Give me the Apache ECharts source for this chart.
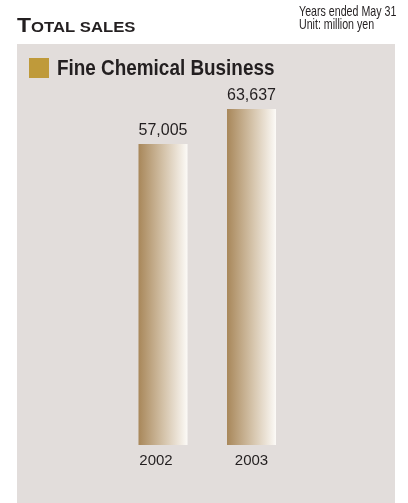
<!DOCTYPE html>
<html>
<head>
<meta charset="utf-8">
<script src="https://cdn.jsdelivr.net/npm/echarts@6/dist/echarts.min.js"></script>
<style>
  html, body { margin: 0; padding: 0; background: #ffffff; }
  #chart { width: 408px; height: 503px; }
</style>
</head>
<body>
<div id="chart"></div>
<script>
// Fiscal years and total sales (million yen)
const years = ['2002', '2003'];
const sales = [57005, 63637];
const seriesName = 'Fine Chemical Business';

const chart = echarts.init(document.getElementById('chart'), null, { renderer: 'canvas' });

const ink = '#231f20';
const sans = '"Liberation Sans", Arial, sans-serif';

chart.setOption({
  backgroundColor: '#ffffff',
  animation: false,
  graphic: [
    // shaded panel behind the chart
    { type: 'rect', z: -10, shape: { x: 17, y: 44, width: 378, height: 459 }, style: { fill: '#e2dddb' } },
    // heading in small caps, slightly extended
    {
      type: 'text', x: 17, y: 16, scaleX: 1.15,
      style: {
        text: '{b|T}{s|OTAL SALES}',
        verticalAlign: 'top',
        rich: {
          b: { fontSize: 20, fontWeight: 'bold', fontFamily: sans, fill: ink },
          s: { fontSize: 14.5, fontWeight: 'bold', fontFamily: sans, fill: ink, padding: [3, 0, 0, 0] }
        }
      }
    },
    // period / unit note, condensed
    {
      type: 'text', x: 299, y: 5, scaleX: 0.71,
      style: {
        text: 'Years ended May 31\nUnit: million yen',
        verticalAlign: 'top',
        font: '15px ' + sans, lineHeight: 13.5, fill: ink
      }
    },
    // legend swatch and title
    { type: 'rect', shape: { x: 29, y: 58, width: 20, height: 20 }, style: { fill: '#bf9a3a' } },
    {
      type: 'text', x: 57, y: 57, scaleX: 0.84,
      style: { text: seriesName, verticalAlign: 'top', font: 'bold 22.5px ' + sans, fill: ink }
    }
  ],
  grid: { left: 118.75, right: 112.25, top: 75.4, bottom: 58, containLabel: false },
  xAxis: {
    type: 'category',
    data: [
      { value: years[0], textStyle: { padding: [0, 14, 0, 0] } },
      { value: years[1] }
    ],
    axisLine: { show: false },
    axisTick: { show: false },
    axisLabel: { color: ink, fontSize: 15, fontFamily: sans, margin: 8 }
  },
  yAxis: {
    type: 'value', min: 0, max: 70000,
    show: false, splitLine: { show: false }
  },
  series: [{
    name: seriesName,
    type: 'bar',
    data: sales,
    barWidth: 49,
    itemStyle: {
      color: new echarts.graphic.LinearGradient(0, 0, 1, 0, [
        { offset: 0, color: '#a8875a' },
        { offset: 0.5, color: '#d3c1a7' },
        { offset: 1, color: '#fcfaf7' }
      ])
    },
    label: {
      show: true, position: 'top', distance: 5,
      color: ink, fontSize: 16, fontFamily: sans,
      formatter: p => p.value.toLocaleString('en-US')
    }
  }]
});
</script>
</body>
</html>
